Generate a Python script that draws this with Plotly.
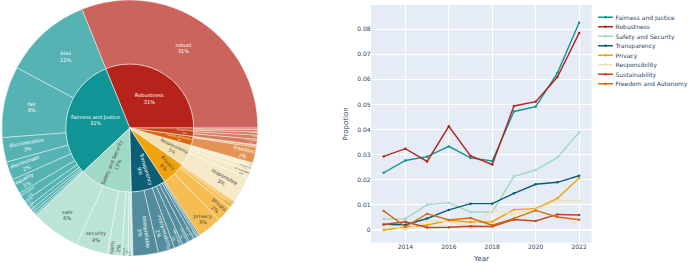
import plotly.graph_objects as go

# ---------------- data ----------------
years = [2013, 2014, 2015, 2016, 2017, 2018, 2019, 2020, 2021, 2022]

categories = ["Fairness and Justice", "Robustness", "Safety and Security", "Transparency",
              "Privacy", "Responsibility", "Sustainability", "Freedom and Autonomy"]
cat_colors = ["#109495", "#b5231a", "#a0d9c5", "#0b5e74",
              "#f2a20a", "#f2e1b3", "#c4451c", "#d8680e"]

fairness = [0.0228, 0.0277, 0.0292, 0.0333, 0.0287, 0.0275, 0.0472, 0.0491, 0.0625, 0.0825]
robustness = [0.0293, 0.0324, 0.0273, 0.0413, 0.0295, 0.0261, 0.0494, 0.0511, 0.0609, 0.0784]
safety = [0.0044, 0.0045, 0.0101, 0.0109, 0.0072, 0.0072, 0.0214, 0.0239, 0.0289, 0.0389]
transparency = [0.0022, 0.0021, 0.0046, 0.0080, 0.0105, 0.0105, 0.0146, 0.0182, 0.0190, 0.0216]
privacy = [0.0000, 0.0011, 0.0020, 0.0038, 0.0032, 0.0033, 0.0081, 0.0085, 0.0126, 0.0207]
responsibility = [0.0022, 0.0001, 0.0036, 0.0035, 0.0011, 0.0078, 0.0064, 0.0081, 0.0117, 0.0117]
sustainability = [0.0022, 0.0033, 0.0010, 0.0011, 0.0015, 0.0014, 0.0042, 0.0036, 0.0062, 0.0060]
freedom = [0.0076, 0.0013, 0.0065, 0.0040, 0.0048, 0.0019, 0.0046, 0.0078, 0.0052, 0.0041]
series = [fairness, robustness, safety, transparency, privacy, responsibility, sustainability, freedom]

# keyword shares (% of all keyword mentions)
kw_fairness = ["bias", "fair", "discrimination", "discriminate", "equality", "inclusion",
               "justice", "equity", "unbiased", "equal", "prejudice", "impartial"]
pct_fairness = [11.1, 9.0, 3.1, 2.3, 1.9, 1.2, 0.8, 0.5, 0.4, 0.3, 0.2, 0.1]
kw_robustness = ["robust"]
pct_robustness = [31.1]
kw_safety = ["safe", "security", "harm", "secure", "risk", "threat"]
pct_safety = [6.2, 4.0, 1.8, 0.8, 0.4, 0.2]
kw_transparency = ["interpretable", "interpretability", "explainable", "transparent",
                   "explainability", "transparency", "explanation", "understandable"]
pct_transparency = [3.2, 2.1, 1.1, 0.9, 0.7, 0.4, 0.2, 0.2]
kw_privacy = ["privacy", "private", "anonymous", "confidential", "personal"]
pct_privacy = [3.1, 2.0, 0.5, 0.3, 0.2]
kw_responsibility = ["responsible", "accountable", "responsibility", "liability", "trustworthy"]
pct_responsibility = [3.3, 0.9, 0.6, 0.3, 0.2]
kw_sustainability = ["sustainable", "energy", "environment", "green", "carbon"]
pct_sustainability = [0.7, 0.5, 0.4, 0.3, 0.2]
kw_freedom = ["freedom", "autonomy", "liberty"]
pct_freedom = [2.0, 0.2, 0.1]

keywords = [kw_fairness, kw_robustness, kw_safety, kw_transparency,
            kw_privacy, kw_responsibility, kw_sustainability, kw_freedom]
shares = [pct_fairness, pct_robustness, pct_safety, pct_transparency,
          pct_privacy, pct_responsibility, pct_sustainability, pct_freedom]

# ---------------- hierarchy ----------------
ids, labels, parents, values, colors = [], [], [], [], []
for cat, col in zip(categories, cat_colors):
    ids.append(cat); labels.append(cat); parents.append(""); values.append(0); colors.append(col)
for cat, col, kws, pcts in zip(categories, cat_colors, keywords, shares):
    for k, p in zip(kws, pcts):
        ids.append(cat + "/" + k); labels.append(k); parents.append(cat)
        values.append(p); colors.append(col)

FONT = "Verdana, DejaVu Sans, sans-serif"

fig = go.Figure()
fig.add_trace(go.Sunburst(
    ids=ids, labels=labels, parents=parents, values=values,
    branchvalues="remainder", sort=True,
    marker=dict(colors=colors, line=dict(color="white", width=1)),
    texttemplate="%{label}<br>%{percentRoot:.0%}",
    textfont=dict(family=FONT, size=10),
    insidetextorientation="auto",
    domain=dict(x=[0, 0.377], y=[0.0266, 1.0]),
))

for name, col, ys in zip(categories, cat_colors, series):
    fig.add_trace(go.Scatter(
        x=years, y=ys, name=name, mode="lines+markers",
        line=dict(color=col, width=2.8), marker=dict(color=col, size=5),
    ))

fig.update_layout(
    width=1380, height=526,
    margin=dict(l=0, r=0, t=0, b=0),
    font=dict(family=FONT, size=12, color="#2a3f5f"),
    paper_bgcolor="white", plot_bgcolor="#e5ecf6",
    xaxis=dict(domain=[0.539, 0.8594], dtick=2, title=dict(text="Year", font=dict(size=14)),
               gridcolor="white", gridwidth=2, zeroline=False, tickfont=dict(size=12)),
    yaxis=dict(domain=[0.0772, 0.981], range=[-0.00505, 0.0896], dtick=0.01,
               title=dict(text="Propotion", font=dict(size=14)),
               gridcolor="white", gridwidth=2, zerolinecolor="white", zerolinewidth=3,
               tickfont=dict(size=12)),
    legend=dict(x=0.865, y=0.962, xanchor="left", yanchor="top",
                bgcolor="rgba(0,0,0,0)", font=dict(size=12)),
)

post = """
var gd = document.getElementById('{plot_id}');
document.documentElement.style.overflow = 'hidden';
document.body.style.margin = '0';
document.body.style.overflow = 'hidden';
gd.style.transformOrigin = '0 0';
gd.style.transform = 'scale(0.5)';
"""

fig.write_html("out.html", post_script=post, config={"displayModeBar": False})
